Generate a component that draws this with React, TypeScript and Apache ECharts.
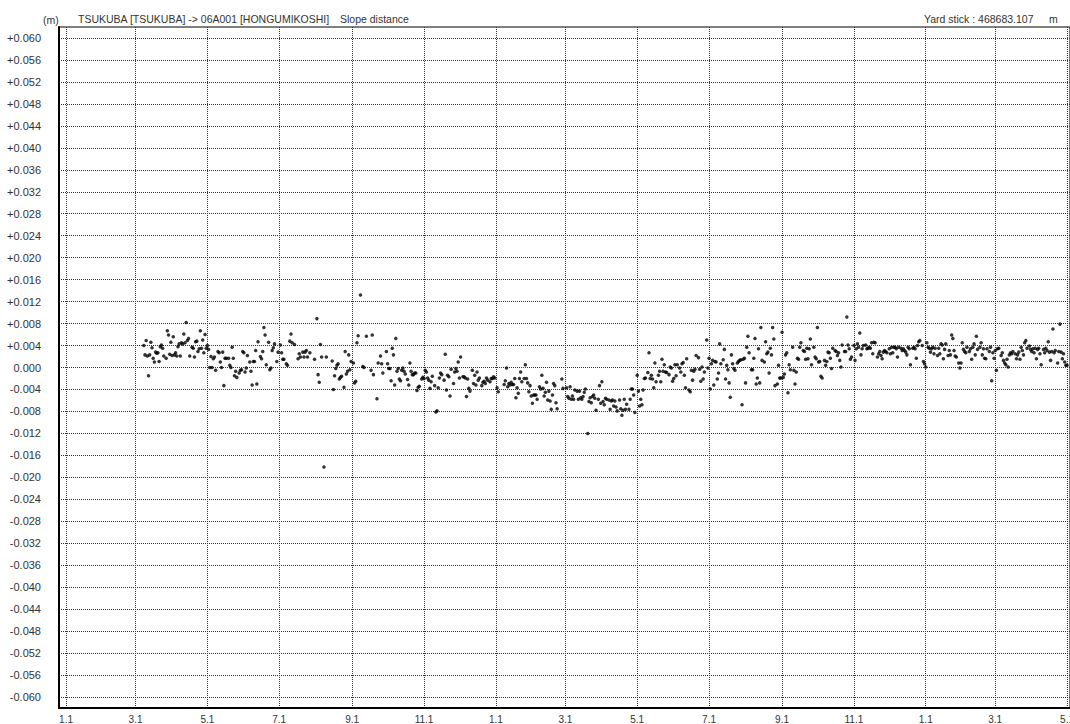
import React, { useEffect, useRef } from "react";
import * as echarts from "echarts";

// X axis: day index counted from 1 January of the first year
const xTickDays = [0, 59, 120, 181, 243, 304, 365, 424, 485, 546, 608, 669, 730, 789, 850];
const xTickLabels = ["1.1", "3.1", "5.1", "7.1", "9.1", "11.1", "1.1", "3.1", "5.1", "7.1", "9.1", "11.1", "1.1", "3.1", "5.1"];

// Y axis ticks (m)
const yTickValues = [
  -0.06, -0.056, -0.052, -0.048, -0.044, -0.04, -0.036, -0.032, -0.028, -0.024, -0.02, -0.016,
  -0.012, -0.008, -0.004, 0, 0.004, 0.008, 0.012, 0.016, 0.02, 0.024, 0.028, 0.032, 0.036, 0.04,
  0.044, 0.048, 0.052, 0.056, 0.06,
];

// First day of each daily block below
const segStartDay = [66, 120, 181, 243, 304, 365, 424, 485, 546, 608, 669, 730, 789];

// Daily slope-distance residuals in millimetres (null = no solution that day)
const marMay1 = [4.0,2.3,4.9,2.1,-1.5,2.3,4.6,3.6,1.7,1.0,2.8,2.6,2.7,1.1,3.8,4.1,3.5,2.1,null,1.7,6.7,5.9,2.4,4.6,2.2,5.6,2.3,2.7,2.1,3.8,4.3,2.1,4.5,4.3,6.1,4.5,8.2,4.9,5.3,2.1,null,3.7,3.5,1.9,4.7,4.8,2.9,3.4,6.7,3.5,5.0,2.7,6.0,3.5];
const mayJul1 = [4.0,3.3,0,2.0,0,1.6,1.9,-0.5,null,2.9,2.7,1.0,0,2.8,-3.3,1.7,1.7,null,1.7,0.4,0,3.7,1.7,-1.5,-0.7,-1.8,null,-1.0,-0.5,-0.4,2.9,2.7,-0.8,-0.1,2.2,null,1.0,-0.7,-3.2,1.1,1.1,3.1,-3.0,4.7,null,2.0,1.6,2.9,7.3,5.9,0.5,null,4.6,-0.4,-0.1,3.1,3.6,4.3,null,1.1,2.8];
const julSep1 = [null,4.1,2.7,1.5,1.5,null,0.7,0.4,null,4.8,6.1,4.5,null,4.2,null,null,1.6,2.5,1.9,null,2.8,1.9,2.8,3.1,1.9,null,2.7,null,null,null,1.5,null,8.9,-1.3,-2.7,4.2,1.9,null,-18.1,null,1.9,null,null,null,null,1.2,-4.0,-1.5,-0.2,0.4,0.7,-2.1,-1.8,-1.6,null,-3.6,2.9,-1.2,-0.7,2.3,-0.4,1.1];
const sepNov1 = [null,0.8,-2.8,-2.5,4.5,5.8,null,13.2,null,0.2,0,null,5.7,null,null,null,-0.5,5.9,-1.3,null,null,-5.7,0.8,null,2.1,0.7,-1.0,null,null,2.9,0.7,-0.2,-0.2,-2.4,3.5,2.3,-3.2,5.3,-0.7,-0.2,-2.1,-2.4,-0.5,-0.1,-0.7,-1.2,null,-2.2,-3.2,0.8,-0.7,-1.3,-1.3,-1.0,-1.0,-4.2,-3.6,-3.4,null,-2.1,-1.8];
const novJan1 = [-2.0,-0.5,-0.8,-1.9,-2.3,-3.8,-2.6,-1.6,null,-3.3,-8.1,-7.9,-3.7,-1.9,-1.0,-1.3,null,-2.3,2.4,-4.1,-1.4,-1.7,-5.2,-0.3,null,-2.9,-0.8,-0.2,-0.7,1.0,-1.9,1.9,null,-1.7,-1.7,-1.9,-5.3,-2.1,-3.8,-4.3,null,-0.5,-2.9,-1.4,-3.2,-0.8,-2.3,-1.9,null,-3.3,-2.7,-2.5,-2.9,-1.9,-2.3,null,-2.6,-2.0,-2.0,-1.7,-1.9];
const janMar2 = [null,-3.7,-4.4,null,null,null,null,-3.1,-2.4,-0.1,-3.5,-2.9,-3.2,-2.7,-3.1,-3.1,-2.0,-5.5,-3.7,-4.7,-2.0,-0.8,-2.6,null,-2.0,0.5,-2.0,-2.8,-4.4,-3.3,-5.2,-6.5,-5.0,-5.0,-5.0,-5.8,null,-3.5,-3.9,-1.4,-3.8,-5.2,-4.5,-2.7,-5.9,-4.3,-6.1,-7.6,-5.0,-2.9,-3.3,-6.4,-7.5,null,null,null,-2.1,-3.8,null];
const marMay2 = [null,-3.7,-5.3,-5.6,-3.5,-5.8,-5.2,-5.8,-4.1,null,-4.3,-5.8,-4.3,-5.5,-5.8,-5.3,-4.5,-3.9,null,-12.0,-6.2,-5.5,-6.4,-5.3,-5.0,-5.6,-7.8,null,-5.8,-3.3,-6.5,-2.6,-6.2,-6.8,-5.6,-5.8,null,-5.9,-7.6,-6.1,-5.9,-7.0,-6.1,-7.2,-7.9,null,-5.9,-7.5,-8.7,-7.8,-5.8,-7.6,-6.7,null,-7.6,-5.8,-3.9,-3.9,-5.0,-8.2,null];
const mayJul2 = [-1.4,-4.3,-7.0,-5.8,-6.8,-4.1,-2.0,-1.9,null,-0.9,2.7,-2.0,-1.4,-2.1,-3.7,0.8,-2.6,null,-1.4,-0.7,-2.6,1.5,-0.7,0.5,-0.8,-0.9,null,-1.3,0.1,-0.1,-2.5,-2.0,0.5,-1.5,0.5,null,-0.1,-0.8,0.7,0.9,-1.4,-3.7,1.6,null,-4.1,-4.4,-0.5,-2.3,-0.7,-0.3,2.2,null,1.8,-0.3,-2.5,0.1,-2.1,-0.8,null,5.0,-0.1];
const julSep2 = [1.7,-3.9,0.7,1.3,-3.2,1.1,1.0,-2.1,-1.0,4.3,0.7,null,1.4,3.3,-2.1,0.4,-0.4,-2.8,-5.4,2.3,0.7,-0.2,-0.5,null,0.8,1.1,1.3,1.4,-6.8,1.5,1.7,-2.8,3.7,5.7,2.7,null,-0.4,-0.4,1.7,5.3,-3.0,-1.9,3.4,-2.8,7.3,1.3,null,1.0,4.7,2.5,2.8,-1.0,3.5,2.3,7.3,5.2,-3.3,null,-3.0,0.4,-1.9,-1.9];
const sepNov2 = [6.4,-1.8,-1.2,2.3,2.7,-4.6,0.5,-0.4,null,3.7,-0.5,-3.0,-0.8,1.7,1.5,3.7,4.5,null,3.1,2.9,1.5,3.5,1.6,3.4,5.2,0.5,null,3.7,1.9,1.6,7.3,1.0,1.1,-1.6,-1.9,null,1.3,0.4,1.1,2.8,2.7,1.7,-0.2,3.5,null,3.1,2.9,2.2,2.7,1.3,0.1,4.1,null,2.9,2.9,9.2,4.1,3.4,1.5,1.9,null];
const novJan2 = [4.0,1.3,3.4,4.3,3.7,6.3,2.3,3.4,4.0,null,4.1,3.4,3.5,3.7,3.5,4.5,2.5,4.6,4.5,null,1.9,2.5,2.9,2.2,1.6,2.8,3.1,2.9,2.7,null,3.4,2.5,3.7,2.7,3.7,3.7,3.4,1.9,3.7,null,3.5,3.1,3.4,3.1,2.8,2.3,3.7,3.4,0.5,null,3.5,3.7,3.4,1.7,4.0,4.7,4.9,null,4.0,1.1,0.7];
const janMar3 = [0.1,4.5,3.7,3.5,2.8,3.4,3.7,2.5,3.5,null,2.2,3.5,2.5,4.3,4.1,1.6,3.3,4.3,null,2.2,3.1,2.3,5.9,5.3,3.1,2.1,1.9,null,0.8,-0.1,0.8,4.5,3.3,2.9,2.7,3.7,null,2.9,3.4,1.5,3.7,4.3,2.3,5.7,3.3,null,3.7,4.5,2.3,3.4,1.7,1.6,3.4,null,2.9,3.7,-2.4,2.7,1.7];
const marMay3 = [3.1,-0.5,3.4,3.5,null,2.2,2.7,1.3,0.8,0.5,1.5,0.1,2.3,2.7,2.5,2.9,null,2.5,1.6,2.3,2.8,1.5,3.7,3.1,2.3,4.5,4.9,3.5,null,3.9,3.3,2.9,3.4,2.7,3.5,1.6,3.3,3.5,2.5,0.5,null,3.3,2.7,3.5,3.1,4.7,2.8,1.3,2.9,7.0,2.7,3.1,null,0.8,2.9,7.9,2.8,1.6,2.5,1.0,0.4,0.4];

const segments = [marMay1, mayJul1, julSep1, sepNov1, novJan1, janMar2, marMay2, mayJul2, julSep2, sepNov2, novJan2, janMar3, marMay3];

const FONT = "'Liberation Sans', Arial, sans-serif";

export default function App() {
  const ref = useRef<HTMLDivElement>(null);

  useEffect(() => {
    if (!ref.current) return;
    const chart = echarts.init(ref.current, null, { renderer: "svg" });

    const points: number[][] = [];
    segments.forEach((seg, si) => {
      seg.forEach((v, i) => {
        if (v !== null && v !== undefined) points.push([segStartDay[si] + i, (v as number) / 1000]);
      });
    });

    const gridLine = { show: true, lineStyle: { color: "#333", width: 1, type: [1, 1] as any } };

    const option: any = {
      animation: false,
      backgroundColor: "#ffffff",
      grid: {
        left: 59,
        right: 0,
        top: 27,
        bottom: 16,
        show: true,
        borderColor: "#000",
        borderWidth: 1,
        containLabel: false,
        outerBoundsMode: "none",
      },
      xAxis: {
        type: "value",
        min: -6,
        max: 852.5,
        axisLine: { show: true, onZero: false, lineStyle: { color: "#000", width: 2 } },
        axisTick: { show: false, customValues: xTickDays },
        axisLabel: {
          customValues: xTickDays,
          formatter: (v: number) => {
            const k = xTickDays.indexOf(Math.round(v));
            return k >= 0 ? xTickLabels[k] : "";
          },
          fontSize: 10,
          color: "#333",
          fontFamily: FONT,
          margin: 6,
        },
        splitLine: gridLine,
      },
      yAxis: {
        type: "value",
        min: -0.062,
        max: 0.062,
        axisLine: { show: true, onZero: false, lineStyle: { color: "#000", width: 2 } },
        axisTick: { show: false, customValues: yTickValues },
        axisLabel: {
          customValues: yTickValues,
          formatter: (v: number) => {
            if (Math.abs(v) < 1e-9) return "0.000";
            return (v > 0 ? "+" : "") + v.toFixed(3);
          },
          fontSize: 11,
          color: "#333",
          fontFamily: FONT,
          margin: 18,
        },
        splitLine: gridLine,
      },
      graphic: [
        { type: "text", left: 43, top: 14, style: { text: "(m)", fontSize: 10.5, fill: "#333", fontFamily: FONT } },
        {
          type: "text",
          left: 78,
          top: 13,
          style: { text: "TSUKUBA [TSUKUBA] -> 06A001 [HONGUMIKOSHI]", fontSize: 10.5, fill: "#333", fontFamily: FONT },
        },
        { type: "text", left: 340, top: 13, style: { text: "Slope distance", fontSize: 10.5, fill: "#333", fontFamily: FONT } },
        { type: "text", left: 924, top: 13, style: { text: "Yard stick : 468683.107", fontSize: 10.5, fill: "#333", fontFamily: FONT } },
        { type: "text", left: 1049, top: 13, style: { text: "m", fontSize: 10.5, fill: "#333", fontFamily: FONT } },
      ],
      series: [
        {
          type: "scatter",
          data: points,
          symbol: "circle",
          symbolSize: 3.5,
          itemStyle: { color: "#000" },
          silent: true,
        },
      ],
    };

    chart.setOption(option);
    return () => chart.dispose();
  }, []);

  return (
    <div
      ref={ref}
      style={{ position: "fixed", left: 0, top: 0, width: 1070, height: 724, background: "#fff" }}
    />
  );
}
